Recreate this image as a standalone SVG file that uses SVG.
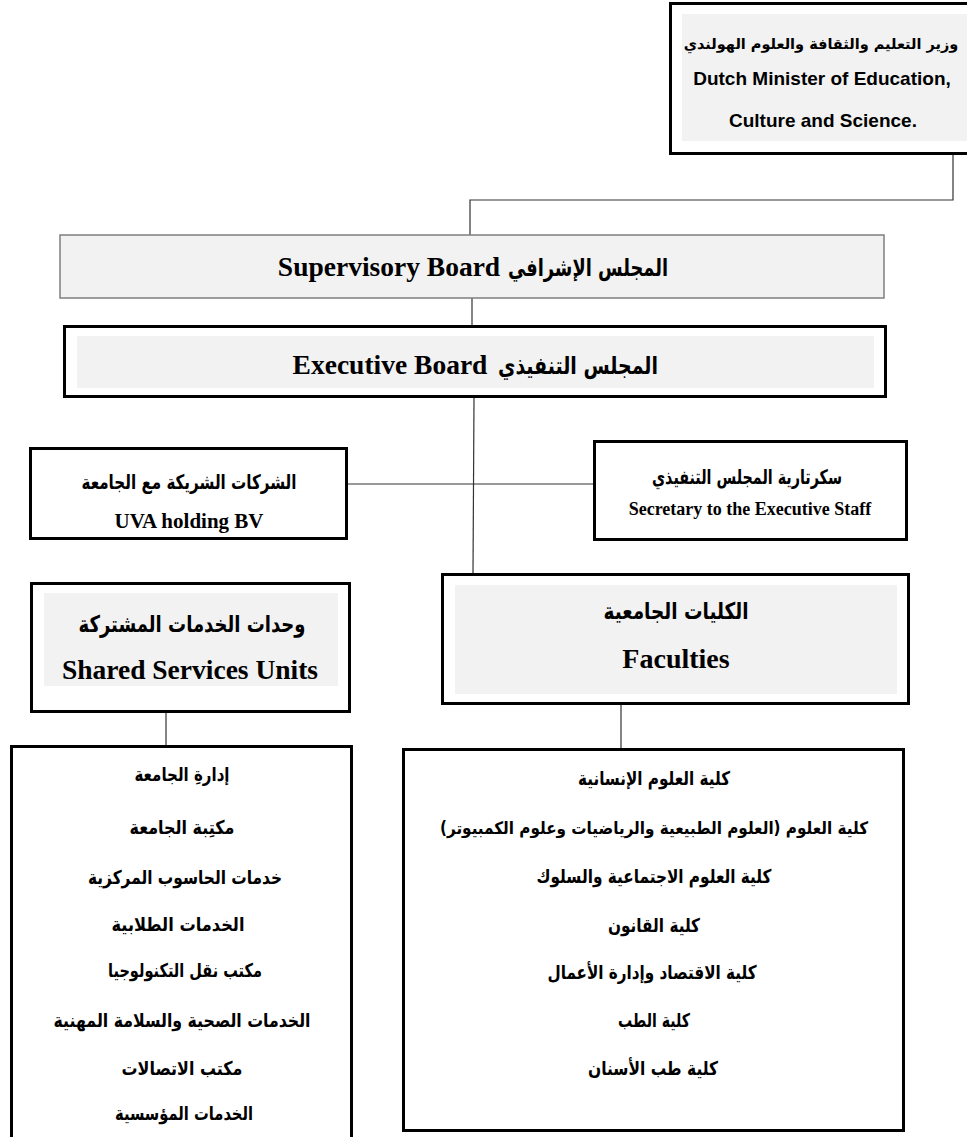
<svg xmlns="http://www.w3.org/2000/svg" width="967" height="1137" viewBox="0 0 967 1137">
<style>
.box{fill:#ffffff;stroke:#000000;stroke-width:3}
.inner{fill:#f2f2f2;stroke:none}
.sup{fill:#f2f2f2;stroke:#7f7f7f;stroke-width:1.5}
.conn{fill:none;stroke:#333333;stroke-width:1.2}
.en{font-family:"Liberation Serif","Times New Roman",serif;font-weight:bold;fill:#000}
.ens{font-family:"Liberation Sans",Arial,sans-serif;font-weight:bold;fill:#000}
.ar{font-family:"DejaVu Sans","Noto Sans",sans-serif;font-weight:bold;fill:#000}
text{text-anchor:middle}
</style>
<rect width="967" height="1137" fill="#ffffff"/>
<g id="connectors">
<polyline class="conn" points="953,155 953,200 470,200 470,235"/>
<line class="conn" x1="472" y1="298" x2="472" y2="325"/>
<line class="conn" x1="474" y1="398" x2="473" y2="573"/>
<line class="conn" x1="348" y1="484" x2="593" y2="484"/>
<line class="conn" x1="166" y1="713" x2="166" y2="745"/>
<line class="conn" x1="621" y1="705" x2="621" y2="748"/>
</g>
<g id="minister">
<rect class="box" x="670.5" y="3.5" width="300" height="150"/>
<rect class="inner" x="682" y="14" width="285" height="127"/>
<text class="ar" x="821" y="49" font-size="14.5">وزير التعليم والثقافة والعلوم الهولندي</text>
<text class="ens" x="822" y="85" font-size="19">Dutch Minister of Education,</text>
<text class="ens" x="823" y="127" font-size="19">Culture and Science.</text>
</g>
<g id="supervisory">
<rect class="sup" x="60" y="235" width="824" height="63"/>
<text class="en" x="389" y="276" font-size="27.5">Supervisory Board</text>
<text class="ar" x="588" y="276" font-size="24" textLength="160" lengthAdjust="spacingAndGlyphs">المجلس الإشرافي</text>
</g>
<g id="executive">
<rect class="box" x="64.5" y="326.5" width="821" height="70"/>
<rect class="inner" x="77" y="336" width="797" height="52"/>
<text class="en" x="390" y="374" font-size="27.5">Executive Board</text>
<text class="ar" x="578" y="374" font-size="24" textLength="160" lengthAdjust="spacingAndGlyphs">المجلس التنفيذي</text>
</g>
<g id="holding">
<rect class="box" x="30.5" y="448.5" width="316" height="90"/>
<text class="ar" x="189" y="489" font-size="20" textLength="215" lengthAdjust="spacingAndGlyphs">الشركات الشريكة مع الجامعة</text>
<text class="en" x="189" y="528" font-size="21">UVA holding BV</text>
</g>
<g id="secretary">
<rect class="box" x="594.5" y="441.5" width="312" height="98"/>
<text class="ar" x="747" y="484" font-size="20" textLength="190" lengthAdjust="spacingAndGlyphs">سكرتارية المجلس التنفيذي</text>
<text class="en" x="750" y="515" font-size="18">Secretary to the Executive Staff</text>
</g>
<g id="shared">
<rect class="box" x="31.5" y="583.5" width="318" height="128"/>
<rect class="inner" x="44" y="593" width="294" height="93"/>
<text class="ar" x="192" y="632" font-size="23" textLength="227" lengthAdjust="spacingAndGlyphs">وحدات الخدمات المشتركة</text>
<text class="en" x="190" y="679" font-size="27.5">Shared Services Units</text>
</g>
<g id="faculties">
<rect class="box" x="442.5" y="574.5" width="466" height="129"/>
<rect class="inner" x="455" y="585" width="442" height="109"/>
<text class="ar" x="676" y="619" font-size="23" textLength="145" lengthAdjust="spacingAndGlyphs">الكليات الجامعية</text>
<text class="en" x="676" y="668" font-size="28">Faculties</text>
</g>
<g id="services-list">
<rect class="box" x="11.5" y="746.5" width="340" height="400"/>
<text class="ar" x="182" y="781" font-size="19" textLength="95" lengthAdjust="spacingAndGlyphs">إدارةِ الجامعة</text>
<text class="ar" x="182" y="834" font-size="19" textLength="105" lengthAdjust="spacingAndGlyphs">مكتِبة الجامعة</text>
<text class="ar" x="185" y="884" font-size="19" textLength="194" lengthAdjust="spacingAndGlyphs">خدمات الحاسوب المركزية</text>
<text class="ar" x="178" y="931" font-size="19" textLength="133" lengthAdjust="spacingAndGlyphs">الخدمات الطلابية</text>
<text class="ar" x="185" y="977" font-size="19" textLength="154" lengthAdjust="spacingAndGlyphs">مكتب نقل التكنولوجيا</text>
<text class="ar" x="182" y="1027" font-size="19" textLength="257" lengthAdjust="spacingAndGlyphs">الخدمات الصحية والسلامة المهنية</text>
<text class="ar" x="182" y="1075" font-size="19" textLength="121" lengthAdjust="spacingAndGlyphs">مكتب الاتصالات</text>
<text class="ar" x="184" y="1120" font-size="19" textLength="138" lengthAdjust="spacingAndGlyphs">الخدمات المؤسسية</text>
</g>
<g id="faculties-list">
<rect class="box" x="403.5" y="749.5" width="500" height="381"/>
<text class="ar" x="654" y="785" font-size="19" textLength="152" lengthAdjust="spacingAndGlyphs">كلية العلوم الإنسانية</text>
<text class="ar" x="654" y="834" font-size="17" textLength="428" lengthAdjust="spacingAndGlyphs">كلية العلوم (العلوم الطبيعية والرياضيات وعلوم الكمبيوتر)</text>
<text class="ar" x="654" y="883" font-size="19" textLength="235" lengthAdjust="spacingAndGlyphs">كلية العلوم الاجتماعية والسلوك</text>
<text class="ar" x="654" y="932" font-size="19" textLength="92" lengthAdjust="spacingAndGlyphs">كلية القانون</text>
<text class="ar" x="652" y="979" font-size="19" textLength="209" lengthAdjust="spacingAndGlyphs">كلية الاقتصاد وإدارة الأعمال</text>
<text class="ar" x="654" y="1027" font-size="19" textLength="72" lengthAdjust="spacingAndGlyphs">كلية الطب</text>
<text class="ar" x="653" y="1075" font-size="19" textLength="130" lengthAdjust="spacingAndGlyphs">كلية طب الأسنان</text>
</g>
</svg>
